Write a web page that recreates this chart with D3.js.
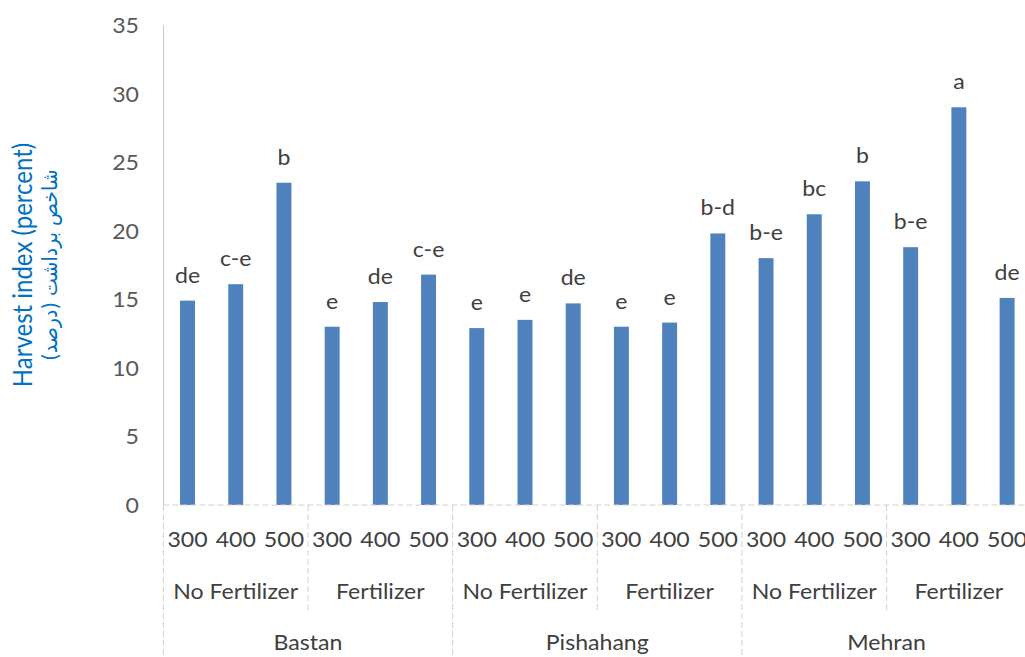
<!DOCTYPE html>
<html><head><meta charset="utf-8">
<script src="https://cdn.jsdelivr.net/npm/d3@7"></script>
<style>
body{margin:0;background:#fff;}
svg{display:block;}
</style>
</head><body>
<svg id="chart" width="1025" height="657"></svg>
<script>
// Harvest index by variety, fertilizer treatment and dose
const varieties = ["Bastan", "Pishahang", "Mehran"];
const fertilizers = ["No Fertilizer", "Fertilizer"];
const doses = ["300", "400", "500"];
const harvestIndex = [14.9, 16.1, 23.5, 13.0, 14.8, 16.8,
                      12.9, 13.5, 14.7, 13.0, 13.3, 19.8,
                      18.0, 21.2, 23.6, 18.8, 29.0, 15.1];
const letters = ["de", "c-e", "b", "e", "de", "c-e",
                 "e", "e", "de", "e", "e", "b-d",
                 "b-e", "bc", "b", "b-e", "a", "de"];
const yTicks = [0, 5, 10, 15, 20, 25, 30, 35];
const yTitle = "Harvest index (percent)";
const yTitleFa = "شاخص برداشت (درصد)";

// flat rows: variety > fertilizer > dose
const rows = [];
varieties.forEach(v => fertilizers.forEach(f => doses.forEach(d => {
  const i = rows.length;
  rows.push({i, variety: v, fert: f, dose: d, value: harvestIndex[i], letter: letters[i]});
})));

const svg = d3.select("#chart");
const FONT = "Lato, 'Open Sans', sans-serif";
const SX = 1.1;              // horizontal widening of the lettering
const left = 163.4, right = 1031.2, y0 = 505, yTop = 25;

const x = d3.scaleBand().domain(rows.map(r => r.i)).range([left, right])
  .paddingInner(0.69).paddingOuter(0.345);
const y = d3.scaleLinear().domain([0, 35]).range([y0, yTop]);
const step = x.step();
const edge = k => left + k * step;

// y axis
const yAxis = svg.append("g").attr("transform", `translate(${left - 0.4},0)`)
  .call(d3.axisLeft(y).tickValues(yTicks).tickSize(0).tickSizeOuter(0).tickPadding(0));
yAxis.select(".domain").attr("stroke", "#c8c8c8").attr("stroke-width", 1);
yAxis.selectAll(".tick text")
  .attr("x", -24 / SX).attr("dy", "0.36em")
  .attr("transform", `scale(${SX},1)`)
  .attr("fill", "#595959").style("font-family", FONT).style("font-size", "21px");

// bars
svg.append("g").selectAll("rect").data(rows).join("rect")
  .attr("x", d => x(d.i)).attr("width", x.bandwidth())
  .attr("y", d => y(d.value)).attr("height", d => y0 - y(d.value))
  .attr("fill", "#4f81bd");

// significance letters
svg.append("g").selectAll("text").data(rows).join("text")
  .attr("transform", d => `translate(${x(d.i) + x.bandwidth() / 2},${y(d.value) - 18}) scale(${SX},1)`)
  .attr("text-anchor", "middle").attr("fill", "#404040")
  .style("font-family", FONT).style("font-size", "21px")
  .text(d => d.letter);

// x axis baseline (dashed)
const grid = "#d0d0d0";
svg.append("line").attr("x1", left).attr("x2", right).attr("y1", y0).attr("y2", y0)
  .attr("stroke", grid).attr("stroke-dasharray", "6,3");

// multi-level category separators
for (let k = 0; k <= rows.length; k += 3) {
  const full = k % 6 === 0;
  svg.append("line").attr("x1", edge(k)).attr("x2", edge(k))
    .attr("y1", y0).attr("y2", full ? 657 : 611)
    .attr("stroke", grid).attr("stroke-dasharray", "6,3");
}

// level 1: doses
const catText = (sel) => sel.attr("text-anchor", "middle").attr("fill", "#404040")
  .style("font-family", FONT).style("font-size", "21px");
svg.append("g").selectAll("text").data(rows).join("text")
  .attr("transform", d => `translate(${x(d.i) + x.bandwidth() / 2},547) scale(${SX},1)`)
  .call(catText).text(d => d.dose);

// level 2: fertilizer groups
const fertGroups = d3.groups(rows, d => d.variety + "|" + d.fert);
svg.append("g").selectAll("text").data(fertGroups).join("text")
  .attr("transform", ([, g]) => {
    const cx = (x(g[0].i) + x(g[g.length - 1].i) + x.bandwidth()) / 2;
    return `translate(${cx},599) scale(${SX},1)`;
  })
  .call(catText).text(([, g]) => g[0].fert);

// level 3: varieties
const varGroups = d3.groups(rows, d => d.variety);
svg.append("g").selectAll("text").data(varGroups).join("text")
  .attr("transform", ([, g]) => {
    const cx = (x(g[0].i) + x(g[g.length - 1].i) + x.bandwidth()) / 2;
    return `translate(${cx},650) scale(${SX},1)`;
  })
  .call(catText).text(([v]) => v);

// axis titles
svg.append("text")
  .attr("transform", `translate(21,265) scale(1.15,1) rotate(-90)`)
  .attr("text-anchor", "middle").attr("dominant-baseline", "central")
  .attr("fill", "#0070c0").style("font-family", FONT).style("font-size", "24px")
  .text(yTitle);
svg.append("text")
  .attr("transform", `translate(50,265) scale(1.1,1) rotate(-90)`)
  .attr("text-anchor", "middle").attr("dominant-baseline", "central")
  .attr("direction", "rtl")
  .attr("fill", "#0070c0").style("font-family", "'DejaVu Sans', sans-serif").style("font-size", "19px")
  .text(yTitleFa);
</script>
</body></html>
